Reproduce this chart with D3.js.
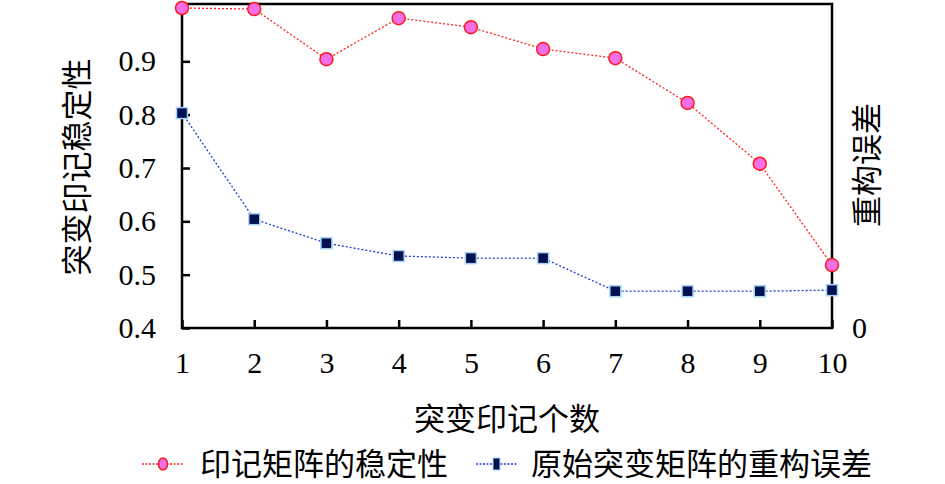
<!DOCTYPE html>
<meta charset="utf-8">
<script src="https://d3js.org/d3.v7.min.js"></script>
<style>
  body { margin: 0; background: #fff; }
</style>
<div id="chart"></div>
<script>
// chart data
var counts = [1, 2, 3, 4, 5, 6, 7, 8, 9, 10];
var stability = [1.0, 0.998, 0.904, 0.981, 0.964, 0.923, 0.906, 0.822, 0.708, 0.518];
var reconError = [0.403, 0.204, 0.159, 0.135, 0.131, 0.131, 0.069, 0.069, 0.069, 0.071];
var leftTicks = [0.4, 0.5, 0.6, 0.7, 0.8, 0.9];
var rightTicks = [0];
var xTitle = "突变印记个数";
var yTitle = "突变印记稳定性";
var y2Title = "重构误差";
var seriesNames = ["印记矩阵的稳定性", "原始突变矩阵的重构误差"];

var numFont = "'Liberation Serif', 'DejaVu Serif', serif";
var cjkFont = "'Noto Sans CJK SC', sans-serif";

var W = 945, H = 484;
var mLeft = 182, mRight = 832, mTop = 4, mBottom = 328;

var svg = d3.select("#chart").append("svg")
  .attr("width", W).attr("height", H);

var x = d3.scaleLinear().domain([1, 10]).range([mLeft, mRight]);
var y = d3.scaleLinear().domain([0.4, 1.0075]).range([mBottom, mTop]);
var y2 = d3.scaleLinear().domain([0, 0.6075]).range([mBottom, mTop]);

// frame
svg.append("rect")
  .attr("x", mLeft).attr("y", mTop)
  .attr("width", mRight - mLeft).attr("height", mBottom - mTop)
  .attr("fill", "none").attr("stroke", "#000").attr("stroke-width", 2.5);

function styleAxis(g) {
  g.attr("font-family", null).attr("font-size", null);
  g.select(".domain").remove();
  g.selectAll("line").attr("stroke", "#000").attr("stroke-width", 2.5);
  g.selectAll("text").attr("fill", "#000")
    .style("font-family", numFont)
    .style("font-size", "30px");
}

// left axis, ticks pointing inward
svg.append("g").attr("transform", "translate(" + mLeft + ",0)")
  .call(d3.axisLeft(y).tickValues(leftTicks).tickSizeInner(-8).tickSizeOuter(0)
    .tickPadding(26).tickFormat(d3.format(".1f")))
  .call(styleAxis);

// bottom axis
svg.append("g").attr("transform", "translate(0," + mBottom + ")")
  .call(d3.axisBottom(x).tickValues(counts).tickSizeInner(-8).tickSizeOuter(0)
    .tickPadding(24).tickFormat(d3.format("d")))
  .call(styleAxis);

// right axis, only the zero label
svg.append("g").attr("transform", "translate(" + mRight + ",0)")
  .call(d3.axisRight(y2).tickValues(rightTicks).tickSize(0).tickPadding(20)
    .tickFormat(d3.format("d")))
  .call(styleAxis);

// titles
svg.append("text")
  .attr("x", 507).attr("y", 430)
  .attr("text-anchor", "middle").style("font-family", cjkFont).style("font-size", "31px")
  .text(xTitle);
svg.append("text")
  .attr("transform", "translate(88,167) rotate(-90)")
  .attr("text-anchor", "middle").style("font-family", cjkFont).style("font-size", "31px")
  .text(yTitle);
svg.append("text")
  .attr("transform", "translate(878,165) rotate(-90)")
  .attr("text-anchor", "middle").style("font-family", cjkFont).style("font-size", "31px")
  .text(y2Title);

// stability series (left axis)
var redLine = d3.line().x(function(d, i) { return x(counts[i]); }).y(function(d) { return y(d); });
svg.append("path").datum(stability)
  .attr("d", redLine).attr("fill", "none")
  .attr("stroke", "#ff2020").attr("stroke-width", 1.3).attr("stroke-dasharray", "2,2");
svg.append("g").selectAll("circle").data(stability).enter().append("circle")
  .attr("cx", function(d, i) { return x(counts[i]); })
  .attr("cy", function(d) { return y(d); })
  .attr("r", 6.5)
  .attr("fill", "#f46ee8").attr("stroke", "#ff1a1a").attr("stroke-width", 1.5);

// reconstruction error series (right axis)
var blueLine = d3.line().x(function(d, i) { return x(counts[i]); }).y(function(d) { return y2(d); });
svg.append("path").datum(reconError)
  .attr("d", blueLine).attr("fill", "none")
  .attr("stroke", "#1a3fd0").attr("stroke-width", 1.3).attr("stroke-dasharray", "2,2");
svg.append("g").selectAll("rect").data(reconError).enter().append("rect")
  .attr("x", function(d, i) { return x(counts[i]) - 5.5; })
  .attr("y", function(d) { return y2(d) - 5.5; })
  .attr("width", 11).attr("height", 11)
  .attr("fill", "#001050").attr("stroke", "#a8d4f4").attr("stroke-width", 1.5);

// legend
var lg = svg.append("g");
lg.append("line").attr("x1", 142).attr("x2", 183).attr("y1", 464).attr("y2", 464)
  .attr("stroke", "#ff2020").attr("stroke-width", 1.5).attr("stroke-dasharray", "2,1.5");
lg.append("ellipse").attr("cx", 163).attr("cy", 464).attr("rx", 4.5).attr("ry", 6)
  .attr("fill", "#f46ee8").attr("stroke", "#ff1a1a").attr("stroke-width", 1.5);
lg.append("text").attr("x", 200).attr("y", 475)
  .style("font-family", cjkFont).style("font-size", "31px").text(seriesNames[0]);
lg.append("line").attr("x1", 476).attr("x2", 518).attr("y1", 464).attr("y2", 464)
  .attr("stroke", "#1a3fd0").attr("stroke-width", 1.5).attr("stroke-dasharray", "2,1.5");
lg.append("rect").attr("x", 493).attr("y", 458).attr("width", 7).attr("height", 12)
  .attr("fill", "#001050").attr("stroke", "#a8d4f4").attr("stroke-width", 1);
lg.append("text").attr("x", 531).attr("y", 475)
  .style("font-family", cjkFont).style("font-size", "31px").text(seriesNames[1]);
</script>
